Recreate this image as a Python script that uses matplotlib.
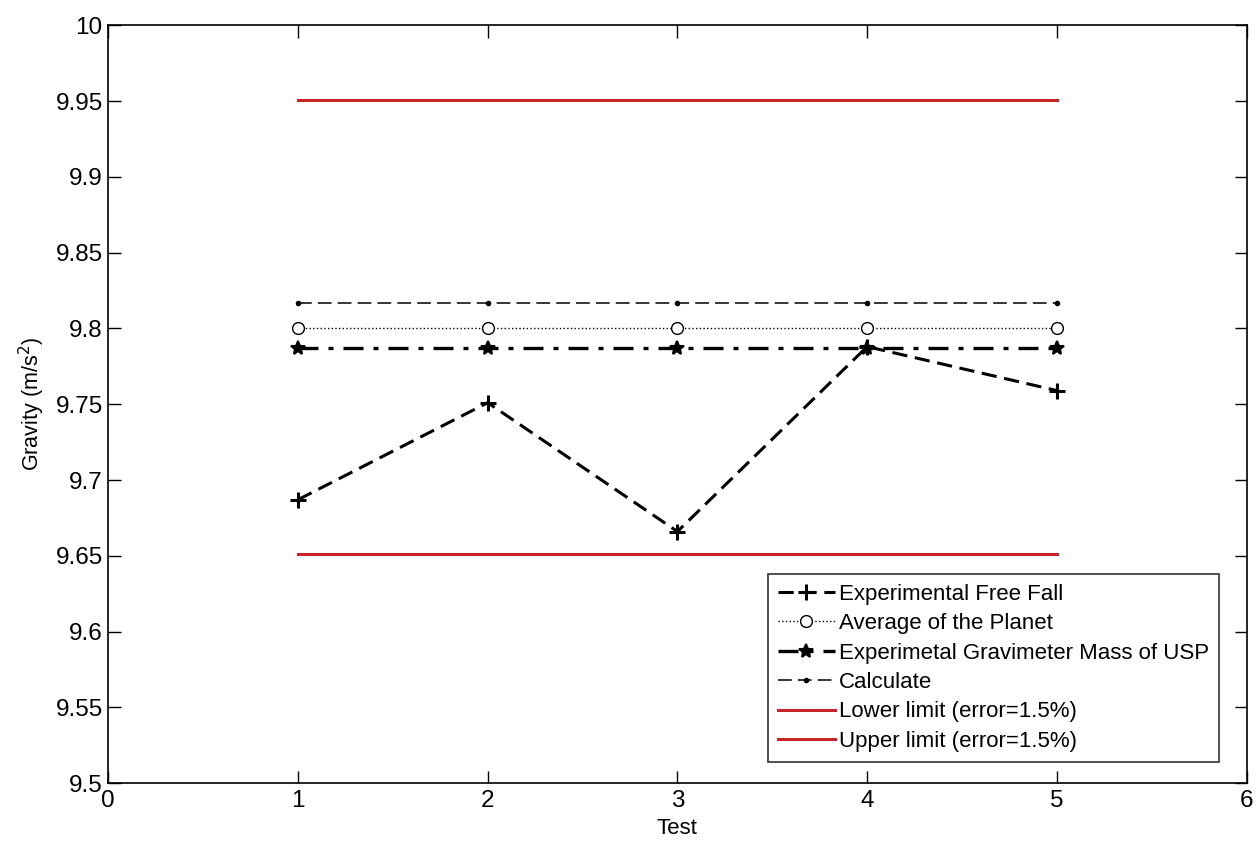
import numpy as np
import matplotlib
matplotlib.use("Agg")
import matplotlib.pyplot as plt

plt.rcParams['font.family'] = ['Liberation Sans', 'DejaVu Sans']

tests = [1, 2, 3, 4, 5]
free_fall = [9.687, 9.751, 9.666, 9.788, 9.759]
planet_avg = [9.80, 9.80, 9.80, 9.80, 9.80]
gravimeter = [9.787, 9.787, 9.787, 9.787, 9.787]
calculated = [9.817, 9.817, 9.817, 9.817, 9.817]
lower_limit = [9.651, 9.651, 9.651, 9.651, 9.651]
upper_limit = [9.951, 9.951, 9.951, 9.951, 9.951]

fig = plt.figure(figsize=(12.58, 8.43), dpi=100)
ax = fig.add_axes([0.086, 0.071, 0.905, 0.899])

red = '#c8242a'
ax.plot(tests, free_fall, color='black', ls=(0, (5, 2.5)), lw=2.2,
        marker='+', ms=11, mew=2.2, label='Experimental Free Fall')
ax.plot(tests, planet_avg, color='black', ls=':', lw=1,
        marker='o', ms=8.5, mfc='white', mew=1, label='Average of the Planet')
ax.plot(tests, gravimeter, color='black', ls=(0, (6, 3, 1.5, 3)), lw=2.4,
        marker='*', ms=10, mew=1.5, label='Experimetal Gravimeter Mass of USP')
ax.plot(tests, calculated, color='black', ls=(0, (9, 4)), lw=1.1,
        marker='.', ms=6, label='Calculate')
ax.plot(tests, lower_limit, color=red, lw=2.2, label='Lower limit (error=1.5%)')
ax.plot(tests, upper_limit, color=red, lw=2.2, label='Upper limit (error=1.5%)')

ax.set_xlim(0, 6)
ax.set_ylim(9.5, 10)
ax.set_xticks(np.arange(0, 7, 1))
ax.set_yticks(np.arange(9.5, 10.001, 0.05))
ax.set_yticklabels(['9.5', '9.55', '9.6', '9.65', '9.7', '9.75', '9.8',
                    '9.85', '9.9', '9.95', '10'])
ax.tick_params(direction='in', top=True, right=True, length=9, width=1,
               labelsize=17.5, pad=4)
ax.tick_params(axis='x', pad=5)
for s in ax.spines.values():
    s.set_linewidth(1.2)

ax.set_xlabel('Test', fontsize=16, labelpad=4)
ax.set_ylabel('Gravity (m/s$^2$)', fontsize=15.5, labelpad=6)

leg = ax.legend(loc='lower right', bbox_to_anchor=(0.9755, 0.028), fontsize=16,
                frameon=True, fancybox=False, edgecolor='black',
                handlelength=2.6, handletextpad=0.15, borderpad=0.45,
                labelspacing=0.38, borderaxespad=0)
leg.get_frame().set_linewidth(1.2)

fig.savefig('out.png', dpi=100)
